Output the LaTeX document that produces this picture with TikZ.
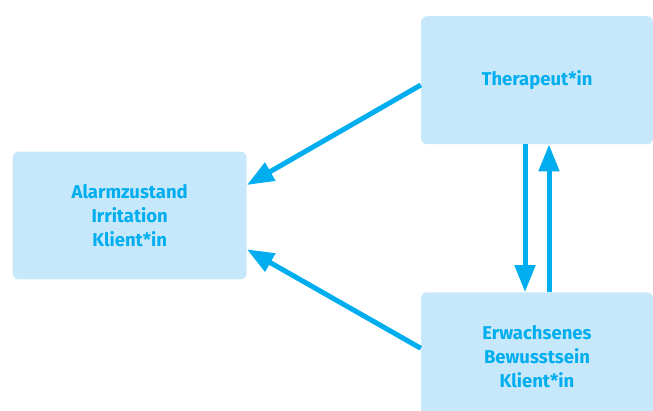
\documentclass[tikz,border=0pt]{standalone}
\usepackage{fontspec}
\setmainfont{Fira Sans}
\usetikzlibrary{arrows.meta,calc}
\definecolor{boxfill}{HTML}{C7E8FA}
\definecolor{cyanink}{HTML}{00AEEF}
\begin{document}
\begin{tikzpicture}[x=1pt,y=-1pt,
  box/.style={fill=boxfill,draw=none,rounded corners=6pt,minimum width=233pt,minimum height=128pt,
    align=center,text=cyanink,font=\fontsize{18.5}{24}\selectfont\bfseries,inner sep=0pt},
  conn/.style={draw=cyanink,line width=5pt,-{Triangle[width=20pt,length=27pt]}}]
\useasboundingbox (0,0) rectangle (653,410);
\begin{scope}
\clip (0,0) rectangle (653,410);
\node[box,minimum width=234pt,minimum height=127.6pt] (alarm) at (129.7,215.5) {Alarmzustand\\Irritation\\Klient*in};
\node[box,minimum width=232pt] (ther) at (537,80.2) {Therapeut*in};
\node[box,minimum width=232pt] (erw) at (537,356.3) {Erwachsenes\\Bewusstsein\\Klient*in};
\end{scope}
\coordinate (t1) at (ther.west |- 0,85);
\coordinate (a1) at (alarm.east |- 0,185);
\coordinate (e1) at (erw.west |- 0,348.3);
\coordinate (a2) at (alarm.east |- 0,249.3);
\coordinate (td) at (ther.south -| 525,0);
\coordinate (ed) at (erw.north -| 525,0);
\coordinate (eu) at (erw.north -| 549,0);
\coordinate (tu) at (ther.south -| 549,0);
\draw[conn] (t1) -- (a1);
\draw[conn] (e1) -- (a2);
\draw[conn] (td) -- (ed);
\draw[conn] (eu) -- (tu);
\end{tikzpicture}
\end{document}
